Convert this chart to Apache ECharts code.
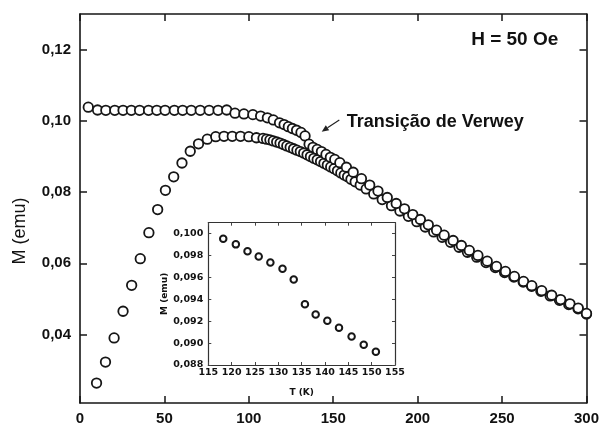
<!DOCTYPE html>
<html><head><meta charset="utf-8">
<script src="https://cdn.jsdelivr.net/npm/echarts@6/dist/echarts.min.js"></script>
<style>html,body{margin:0;padding:0;background:#fff}#c{width:602px;height:426px}</style>
</head><body><div id="c"></div>
<script>
// FC curve (upper)
const fcT = [4.9, 10.4, 15.3, 20.6, 25.5, 30.4, 35.3, 40.6, 45.5, 50.4, 55.9, 60.8, 65.9, 71.2, 76.5, 81.8, 86.9, 91.8, 97.1, 102.4, 107.0, 111.0, 114.5, 118.2, 120.9, 123.4, 125.8, 128.3, 130.9, 133.3, 135.7, 138.0, 140.5, 143.0, 145.7, 148.3, 150.9, 153.9, 157.8, 161.8, 166.7, 171.6, 176.5, 182.0, 187.3, 192.2, 197.1, 201.6, 206.3, 211.2, 215.7, 221.0, 225.9, 230.6, 235.7, 241.2, 246.7, 252.0, 257.3, 262.7, 267.6, 273.5, 279.4, 284.7, 290.2, 295.1, 300.0];
const fcM = [0.1039, 0.1031, 0.1030, 0.1030, 0.1030, 0.1030, 0.1030, 0.1030, 0.1030, 0.1030, 0.1030, 0.1030, 0.1030, 0.1030, 0.1030, 0.1030, 0.1031, 0.1022, 0.1020, 0.1018, 0.1014, 0.1009, 0.1003, 0.0995, 0.0990, 0.0984, 0.0979, 0.0974, 0.0968, 0.0958, 0.0935, 0.0926, 0.0920, 0.0914, 0.0906, 0.0898, 0.0892, 0.0883, 0.0870, 0.0856, 0.0838, 0.0820, 0.0803, 0.0785, 0.0768, 0.0753, 0.0737, 0.0723, 0.0708, 0.0693, 0.0679, 0.0664, 0.0650, 0.0636, 0.0622, 0.0606, 0.0591, 0.0577, 0.0563, 0.0549, 0.0537, 0.0523, 0.0510, 0.0498, 0.0486, 0.0474, 0.0459];
// ZFC curve (lower)
const zfcT = [9.8, 15.1, 20.2, 25.5, 30.6, 35.7, 40.8, 46.0, 50.6, 55.5, 60.4, 65.3, 70.2, 75.4, 80.4, 85.3, 90.2, 95.1, 100.0, 104.5, 108.4, 110.5, 112.5, 114.5, 116.5, 118.5, 120.5, 122.5, 124.5, 126.5, 128.5, 130.5, 132.5, 134.5, 136.5, 138.5, 140.5, 142.5, 144.5, 146.5, 148.5, 150.5, 152.5, 154.5, 156.5, 158.5, 160.5, 163.0, 166.0, 169.5, 174.0, 179.0, 184.5, 189.5, 194.5, 199.5, 204.5, 209.5, 214.5, 219.5, 224.5, 229.5, 235.0, 240.5, 246.0, 251.5, 257.0, 262.5, 267.5, 273.0, 278.5, 284.0, 289.5, 295.0, 300.0];
const zfcM = [0.0263, 0.0322, 0.0390, 0.0465, 0.0538, 0.0613, 0.0686, 0.0751, 0.0805, 0.0843, 0.0882, 0.0915, 0.0936, 0.0949, 0.0956, 0.0957, 0.0957, 0.0957, 0.0956, 0.0953, 0.0951, 0.0949, 0.0947, 0.0944, 0.0941, 0.0938, 0.0934, 0.0930, 0.0926, 0.0922, 0.0918, 0.0914, 0.0910, 0.0905, 0.0900, 0.0895, 0.0891, 0.0886, 0.0881, 0.0876, 0.0871, 0.0866, 0.0860, 0.0854, 0.0848, 0.0843, 0.0836, 0.0829, 0.0820, 0.0809, 0.0795, 0.0779, 0.0762, 0.0747, 0.0732, 0.0717, 0.0702, 0.0688, 0.0673, 0.0659, 0.0645, 0.0631, 0.0617, 0.0602, 0.0588, 0.0574, 0.0561, 0.0547, 0.0535, 0.0521, 0.0508, 0.0496, 0.0484, 0.0472, 0.0457];
// Inset (zoom on Verwey transition)
const insetT = [118.2, 120.9, 123.4, 125.8, 128.3, 130.9, 133.3, 135.7, 138.0, 140.5, 143.0, 145.7, 148.3, 150.9];
const insetM = [0.09954, 0.09902, 0.09840, 0.09792, 0.09737, 0.09679, 0.09581, 0.09354, 0.09262, 0.09205, 0.09140, 0.09061, 0.08984, 0.08920];
// Tick values
const mainYTicks = [0.04, 0.06, 0.08, 0.10, 0.12];
const insetYTicks = [0.088, 0.090, 0.092, 0.094, 0.096, 0.098, 0.100];

const pairs = (xs, ys) => xs.map((x, i) => [x, ys[i]]);
const INK = '#161616';
const MAINFONT = 'Liberation Sans, Arial, sans-serif';
const INSETFONT = 'DejaVu Sans, sans-serif';

function mainAxisCommon(extra) {
  return Object.assign({
    type: 'value', gridIndex: 0,
    axisLine: { show: true, onZero: false, lineStyle: { color: INK, width: 1.6 } },
    axisTick: { show: true, inside: true, length: 7, lineStyle: { color: INK, width: 1.5 } },
    splitLine: { show: false }
  }, extra);
}
function insetAxisCommon(extra) {
  return Object.assign({
    type: 'value', gridIndex: 1,
    axisLine: { show: true, onZero: false, lineStyle: { color: '#333', width: 1.2 } },
    axisTick: { show: true, inside: true, length: 3, lineStyle: { color: '#444', width: 1 } },
    splitLine: { show: false }
  }, extra);
}

const chart = echarts.init(document.getElementById('c'), null, { renderer: 'canvas' });
chart.setOption({
  animation: false,
  backgroundColor: '#fff',
  grid: [
    { left: 80, top: 14, right: 12.5, bottom: 22, containLabel: false },
    { left: 208.3, top: 222.7, right: 207, bottom: 61, containLabel: false, show: true, backgroundColor: '#fff', borderWidth: 0 }
  ],
  xAxis: [
    mainAxisCommon({ position: 'bottom', min: 0, max: 300, interval: 50,
      axisLabel: { fontFamily: MAINFONT, fontWeight: 'bold', fontSize: 15, color: '#111', margin: 8 } }),
    mainAxisCommon({ position: 'top', min: 0, max: 300, interval: 50, axisLabel: { show: false } }),
    insetAxisCommon({ position: 'bottom', min: 115, max: 155, interval: 5,
      name: 'T (K)', nameLocation: 'middle', nameGap: 23,
      nameTextStyle: { fontFamily: INSETFONT, fontWeight: 'bold', fontSize: 9, color: '#111' },
      axisLabel: { fontFamily: INSETFONT, fontWeight: 'bold', fontSize: 9.5, color: '#111', margin: 3 } }),
    insetAxisCommon({ position: 'top', min: 115, max: 155, interval: 5, axisLabel: { show: false } })
  ],
  yAxis: [
    mainAxisCommon({ position: 'left', min: 0.0207, max: 0.1301,
      axisTick: { show: true, inside: true, length: 7, customValues: mainYTicks, lineStyle: { color: INK, width: 1.5 } },
      axisLabel: { customValues: mainYTicks, fontFamily: MAINFONT, fontWeight: 'bold', fontSize: 15, color: '#111', margin: 9,
        formatter: v => v.toFixed(2).replace('.', ',') } }),
    mainAxisCommon({ position: 'right', min: 0.0207, max: 0.1301,
      axisTick: { show: true, inside: true, length: 7, customValues: mainYTicks, lineStyle: { color: INK, width: 1.5 } },
      axisLabel: { show: false } }),
    insetAxisCommon({ position: 'left', min: 0.088, max: 0.101,
      name: 'M (emu)', nameLocation: 'middle', nameGap: 38, nameRotate: 90,
      nameTextStyle: { fontFamily: INSETFONT, fontWeight: 'bold', fontSize: 9, color: '#111' },
      axisTick: { show: true, inside: true, length: 3, customValues: insetYTicks, lineStyle: { color: '#444', width: 1 } },
      axisLabel: { customValues: insetYTicks, fontFamily: INSETFONT, fontWeight: 'bold', fontSize: 9.5, color: '#111', margin: 5,
        formatter: v => v.toFixed(3).replace('.', ',') } }),
    insetAxisCommon({ position: 'right', min: 0.088, max: 0.101,
      axisTick: { show: true, inside: true, length: 3, customValues: insetYTicks, lineStyle: { color: '#444', width: 1 } },
      axisLabel: { show: false } })
  ],
  series: [
    { type: 'scatter', xAxisIndex: 0, yAxisIndex: 0, data: pairs(zfcT, zfcM), symbol: 'circle', symbolSize: 9.5,
      itemStyle: { color: '#fff', borderColor: INK, borderWidth: 1.8, opacity: 1 }, silent: true },
    { type: 'scatter', xAxisIndex: 0, yAxisIndex: 0, data: pairs(fcT, fcM), symbol: 'circle', symbolSize: 9.5,
      itemStyle: { color: '#fff', borderColor: INK, borderWidth: 1.8, opacity: 1 }, silent: true },
    { type: 'scatter', xAxisIndex: 2, yAxisIndex: 2, data: pairs(insetT, insetM), symbol: 'circle', symbolSize: 6.5,
      itemStyle: { color: '#fff', borderColor: INK, borderWidth: 2, opacity: 1 }, silent: true }
  ],
  graphic: [
    { type: 'text', x: 20, y: 231, rotation: Math.PI / 2, silent: true,
      style: { text: 'M (emu)', fontFamily: MAINFONT, fontSize: 18, fill: '#111', align: 'center', verticalAlign: 'middle' } },
    { type: 'text', x: 514.7, y: 40, silent: true,
      style: { text: 'H = 50 Oe', fontFamily: MAINFONT, fontWeight: 'bold', fontSize: 19, fill: '#111', align: 'center', verticalAlign: 'middle' } },
    { type: 'text', x: 346.7, y: 122, silent: true,
      style: { text: 'Transição de Verwey', fontFamily: MAINFONT, fontWeight: 'bold', fontSize: 18, fill: '#111', align: 'left', verticalAlign: 'middle' } },
    { type: 'line', silent: true, shape: { x1: 339.3, y1: 120, x2: 327.5, y2: 127.8 }, style: { stroke: '#222', lineWidth: 1.2 } },
    { type: 'polygon', silent: true, shape: { points: [[321.7, 131.7], [329.2, 130.3], [325.8, 125.3]] }, style: { fill: '#222' } }
  ]
});
</script>
</body></html>
